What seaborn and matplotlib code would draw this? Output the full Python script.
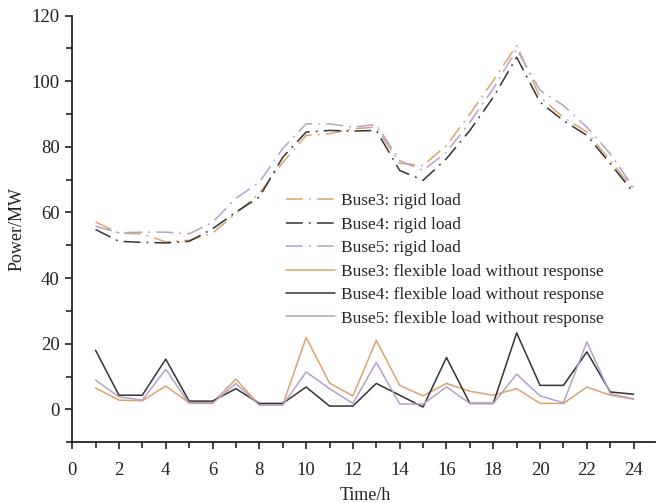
import matplotlib
matplotlib.use('Agg')
import matplotlib.pyplot as plt
from matplotlib.ticker import MultipleLocator
import numpy as np
import pandas as pd
import seaborn as sns

hours = list(range(1, 25))

# rigid loads (MW)
rigid_b3 = [57.1, 53.7, 53.5, 51.0, 51.5, 53.7, 59.7, 65.8, 75.2, 83.5, 84.0, 85.5,
            86.0, 75.0, 74.3, 80.4, 90.0, 100.2, 110.9, 95.1, 89.0, 84.5, 75.8, 67.0]
rigid_b4 = [54.8, 51.2, 50.9, 50.7, 51.2, 55.0, 60.1, 64.7, 76.8, 84.5, 85.0, 84.8,
            85.0, 72.8, 69.8, 76.4, 85.0, 95.1, 107.3, 93.6, 88.0, 83.5, 74.9, 66.0]
rigid_b5 = [55.8, 53.8, 54.0, 54.0, 53.5, 57.0, 64.3, 69.2, 79.5, 87.0, 87.0, 86.0,
            86.8, 75.8, 72.8, 78.4, 87.5, 97.7, 109.8, 97.2, 92.6, 86.0, 77.9, 67.5]

# flexible loads without response (MW)
flex_b3 = [6.5, 2.8, 2.6, 7.1, 2.0, 2.0, 9.2, 1.3, 1.3, 21.9, 8.0, 4.1,
           21.0, 7.3, 4.1, 7.9, 5.5, 4.3, 6.3, 1.8, 1.8, 6.8, 4.3, 3.1]
flex_b4 = [18.0, 4.3, 4.3, 15.3, 2.5, 2.5, 6.3, 1.8, 1.8, 6.8, 1.0, 1.0,
           7.9, 4.3, 0.7, 15.8, 1.8, 1.8, 23.3, 7.3, 7.3, 17.5, 5.3, 4.6]
flex_b5 = [8.9, 3.8, 2.8, 12.2, 1.8, 1.8, 7.9, 1.3, 1.3, 11.4, 6.3, 1.8,
           14.3, 1.6, 1.6, 6.8, 1.8, 1.8, 10.7, 4.1, 2.0, 20.5, 4.8, 3.1]

ORANGE = '#d9a46c'
BLACK  = '#333333'
PURPLE = '#b8a0c9'
DASHDOT = (0, (11, 4, 1.2, 4))

series = [
    ('Buse3: rigid load', rigid_b3, ORANGE, DASHDOT),
    ('Buse4: rigid load', rigid_b4, BLACK, DASHDOT),
    ('Buse5: rigid load', rigid_b5, PURPLE, DASHDOT),
    ('Buse3: flexible load without response', flex_b3, ORANGE, '-'),
    ('Buse4: flexible load without response', flex_b4, BLACK, '-'),
    ('Buse5: flexible load without response', flex_b5, PURPLE, '-'),
]

sns.set_style('ticks')
plt.rcParams['font.family'] = ['Liberation Serif', 'DejaVu Serif']

fig = plt.figure(figsize=(6.56, 5.03), dpi=100)
ax = fig.add_axes([0.110, 0.121, 0.888, 0.848])

for label, vals, col, ls in series:
    sns.lineplot(x=hours, y=vals, ax=ax, color=col, linestyle=ls,
                 linewidth=1.1, label=label)

ax.set_xlim(0, 24.9)
ax.set_ylim(-10, 120)
ax.xaxis.set_major_locator(MultipleLocator(2))
ax.xaxis.set_minor_locator(MultipleLocator(1))
ax.yaxis.set_minor_locator(MultipleLocator(10))
ax.set_yticks([0, 20, 40, 60, 80, 100, 120])
ax.tick_params(which='major', direction='out', length=5, width=1.2,
               labelsize=13.5, colors='#222222')
ax.tick_params(which='minor', direction='out', length=4, width=1.2)
ax.tick_params(axis='x', which='major', pad=9)
ax.tick_params(axis='y', which='major', pad=4)

sns.despine(ax=ax)
for sp in ('left', 'bottom'):
    ax.spines[sp].set_linewidth(1.3)
    ax.spines[sp].set_color('#222222')

ax.set_xlabel('Time/h', fontsize=13, color='#222222', va='center')
ax.xaxis.set_label_coords(0.504, -0.124)
ax.set_ylabel('Power/MW', fontsize=13, labelpad=4, color='#222222')

ax.legend(loc='upper left', bbox_to_anchor=(0.355, 0.60), frameon=False,
          fontsize=12.5, handlelength=2.8, handletextpad=0.35,
          labelspacing=0.42, borderaxespad=0)

fig.savefig('out.png', dpi=100)
